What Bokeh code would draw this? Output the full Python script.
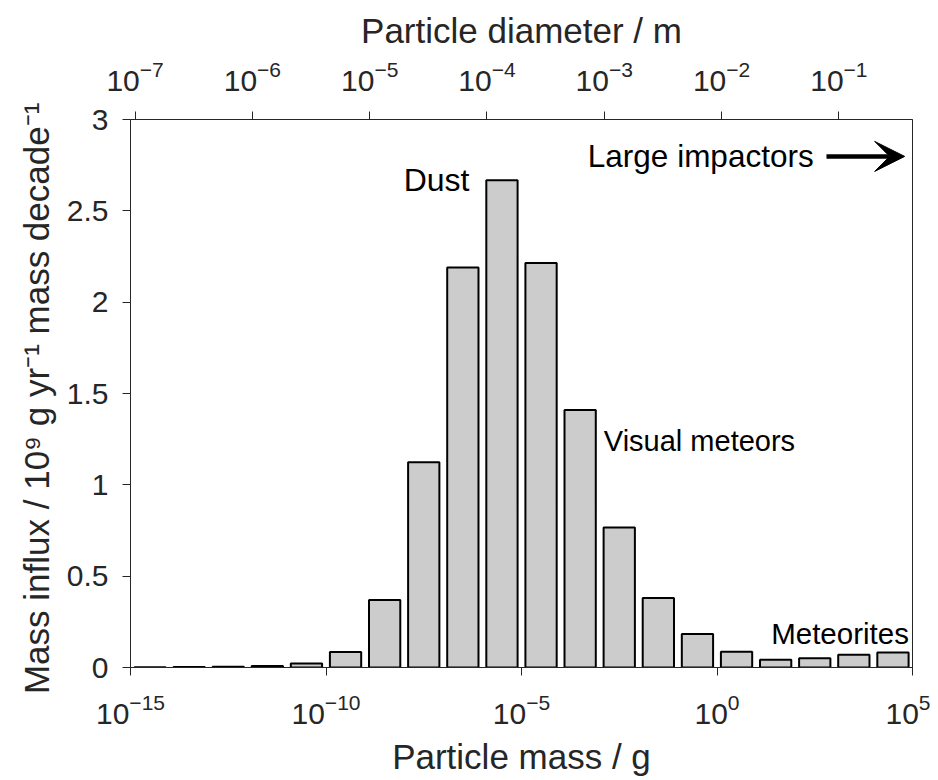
import math
from bokeh.plotting import figure
from bokeh.models import (Range1d, LogScale, LogAxis, FixedTicker, LogTickFormatter,
                          CustomJSTickFormatter, Label, Arrow, VeeHead)
from bokeh.embed import file_html
from bokeh.resources import INLINE

# ---- data ----
decade_start = list(range(-15, 5))          # log10 of lower bin edge, g
influx = [0.002, 0.003, 0.004, 0.008, 0.022, 0.085, 0.37, 1.123, 2.19, 2.667,
          2.214, 1.41, 0.767, 0.38, 0.183, 0.086, 0.042, 0.051, 0.070, 0.082]
mass_ticks = [1e-15, 1e-10, 1e-5, 1e0, 1e5]
diam_ticks = [1e-7, 1e-6, 1e-5, 1e-4, 1e-3, 1e-2, 1e-1]
y_ticks = [0, 0.5, 1, 1.5, 2, 2.5, 3]
density = 2.5  # g cm^-3, for the diameter axis

ann_text = ["Dust", "Visual meteors", "Meteorites", "Large impactors"]
ann_x = [10**-7.95, 10**-2.83, 10**1.45, 10**-3.24]
ann_y = [2.616, 1.187, 0.1315, 2.748]
ann_size = ["32px", "29px", "29.5px", "31.5px"]

FONT = "Liberation Sans"
INK = "#262626"


def diam(m):
    return (6.0 * m / (math.pi * density)) ** (1.0 / 3.0) / 100.0


p = figure(frame_width=782, frame_height=548,
           x_axis_type="log", x_range=Range1d(1e-15, 1e5), y_range=Range1d(0, 3),
           extra_x_ranges={"diam": Range1d(diam(1e-15), diam(1e5))},
           extra_x_scales={"diam": LogScale()},
           output_backend="svg", toolbar_location=None,
           min_border_left=130, min_border_right=18,
           min_border_top=119, min_border_bottom=100)

p.xgrid.visible = False
p.ygrid.visible = False
p.outline_line_color = INK
p.outline_line_width = 1
p.background_fill_color = "white"
p.border_fill_color = "white"

bar_w = 0.8
p.quad(left=[10 ** (d + 0.5 - bar_w / 2) for d in decade_start],
       right=[10 ** (d + 0.5 + bar_w / 2) for d in decade_start],
       bottom=0, top=influx,
       fill_color="#cccccc", line_color="black", line_width=2)

bottom_axis = p.below[0]
bottom_axis.ticker = FixedTicker(ticks=mass_ticks)
bottom_axis.axis_label = "Particle mass / g"

top_axis = LogAxis(x_range_name="diam", ticker=FixedTicker(ticks=diam_ticks),
                   formatter=LogTickFormatter(),
                   axis_label="Particle diameter / m")
p.add_layout(top_axis, "above")

left_axis = p.left[0]
left_axis.ticker = FixedTicker(ticks=y_ticks)
left_axis.formatter = CustomJSTickFormatter(code="return tick.toString();")
left_axis.axis_label = "Mass influx / 10\u2079 g yr\u207b\u00b9  mass decade\u207b\u00b9"

for ax in [bottom_axis, top_axis, left_axis]:
    ax.major_tick_out = 8
    ax.major_tick_in = 0
    ax.minor_tick_out = 0
    ax.minor_tick_in = 0
    ax.axis_line_color = INK
    ax.major_tick_line_color = INK
    ax.major_label_text_font = FONT
    ax.major_label_text_font_size = "30px"
    ax.major_label_text_color = INK
    ax.axis_label_text_font = FONT
    ax.axis_label_text_font_size = "35px"
    ax.axis_label_text_font_style = "normal"
    ax.axis_label_text_color = INK

left_axis.major_label_standoff = 14
left_axis.axis_label_standoff = 8
bottom_axis.major_label_standoff = 18
bottom_axis.axis_label_standoff = 10
top_axis.major_label_standoff = 21
top_axis.axis_label_standoff = 8

for t, x, y, s in zip(ann_text, ann_x, ann_y, ann_size):
    p.add_layout(Label(x=x, y=y, x_offset=-2.5, y_offset=10, text=t,
                       text_font=FONT, text_font_size=s,
                       text_color="black", text_baseline="alphabetic", text_align="left"))

p.add_layout(Arrow(end=VeeHead(size=30, fill_color="black", line_color="black"),
                   x_start=10 ** 2.8, y_start=2.798, x_end=10 ** 4.8, y_end=2.798,
                   line_width=4.5, line_color="black"))

open("out.html", "w").write(file_html(p, INLINE))
